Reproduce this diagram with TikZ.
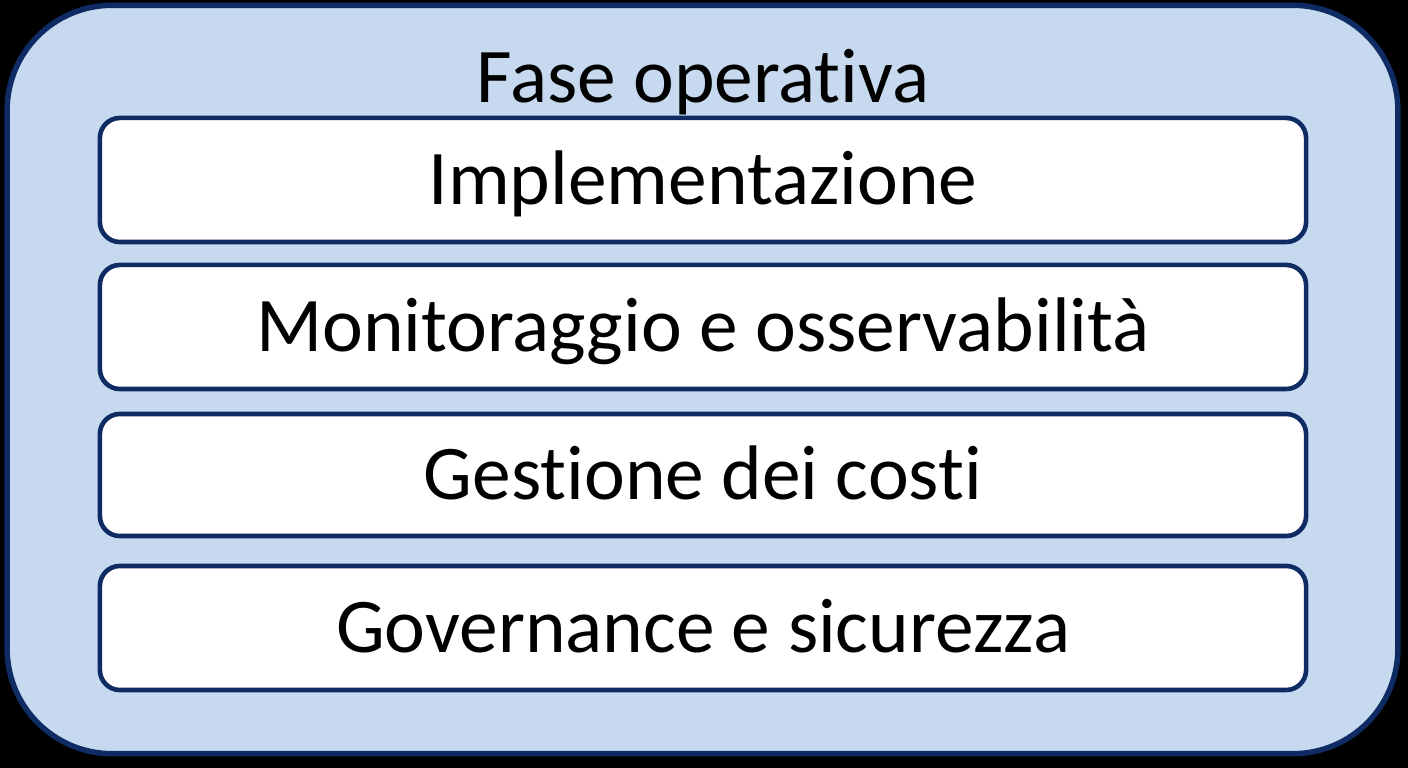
\documentclass[tikz,border=0pt]{standalone}
\usepackage{fontspec}
\setmainfont[Ligatures=NoCommon]{Carlito}
\definecolor{panelblue}{HTML}{C6D9EE}
\definecolor{navy}{HTML}{0E2B63}
\begin{document}
\begin{tikzpicture}[x=0.01cm,y=-0.01cm,
  outerbox/.style={draw=navy,fill=panelblue,line width=0.055cm,rounded corners=1.05cm,
    minimum width=13.9cm,minimum height=7.48cm,inner sep=0pt},
  itembox/.style={draw=navy,fill=white,line width=0.046cm,rounded corners=0.2cm,
    minimum width=12.055cm,minimum height=1.24cm,inner sep=0pt,
    text height=0.49cm,text depth=0pt,font=\fontsize{22}{26}\selectfont},
  titletext/.style={inner sep=0pt,text height=0.49cm,text depth=0pt,font=\fontsize{22}{26}\selectfont}]
\fill[black] (0,0) rectangle (1408,768);
\useasboundingbox (0,0) rectangle (1408,768);
\node[outerbox] (outer) at (702.5,379.5) {};
\node[titletext] (title) at (703,78) {Fase operativa};
\node[itembox] (b1) at (703,180) {Implementazione};
\node[itembox] (b2) at (703,327) {Monitoraggio e osservabilità};
\node[itembox,minimum height=1.22cm] (b3) at (703,475) {Gestione dei costi};
\node[itembox] (b4) at (703,628) {Governance e sicurezza};
\end{tikzpicture}
\end{document}
